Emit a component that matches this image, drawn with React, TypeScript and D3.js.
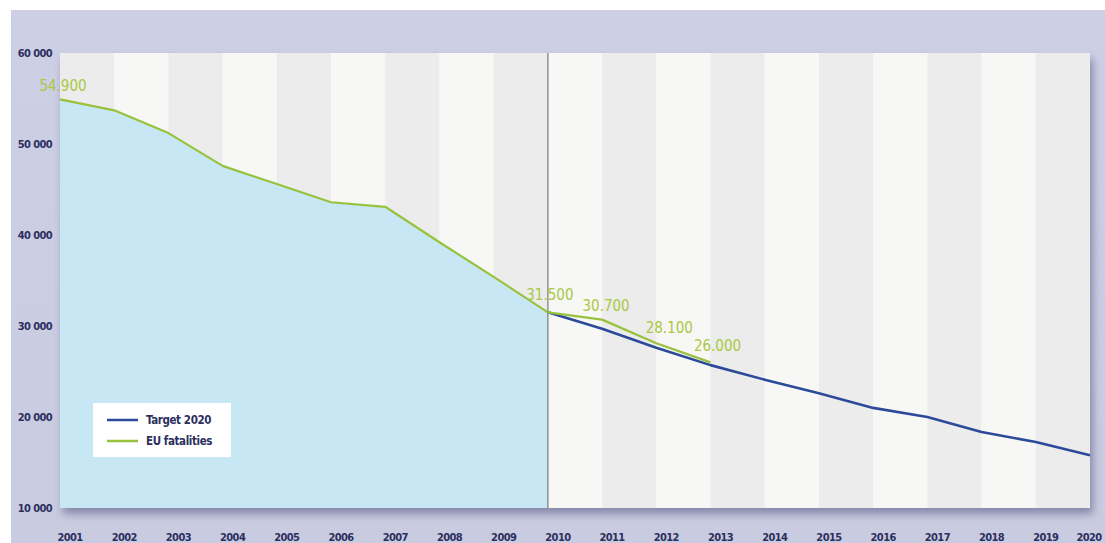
import React from "react";
import * as d3 from "d3";

const years = d3.range(2001, 2021);
const fatalYears = [2001, 2002, 2003, 2004, 2005, 2006, 2007, 2008, 2009, 2010, 2011, 2012, 2013];
const fatalities = [54900, 53700, 51200, 47600, 45600, 43600, 43100, 39200, 35400, 31500, 30700, 28100, 26000];
const targetYears = [2010, 2011, 2012, 2013, 2014, 2015, 2016, 2017, 2018, 2019, 2020];
const target = [31500, 29700, 27600, 25700, 24100, 22600, 21000, 20000, 18350, 17250, 15800];
const labelYears = [2001, 2010, 2011, 2012, 2013];
const labelTexts = ["54.900", "31.500", "30.700", "28.100", "26.000"];
const yTicks = [10000, 20000, 30000, 40000, 50000, 60000];
const legendItems = ["Target 2020", "EU fatalities"];

const W = 1105;
const H = 543;
const plot = { left: 60, right: 1090, top: 53, bottom: 508 };
const FONT = "'Liberation Sans Narrow', 'DejaVu Sans Condensed', 'Open Sans', sans-serif";
const GREEN = "#98c23c";
const LABEL_GREEN = "#aac842";
const BLUE = "#2c4a9a";
const NAVY = "#2c2f5e";

export default function App() {
  const x = d3.scaleLinear().domain([2001, 2020]).range([plot.left, plot.right]);
  const y = d3.scaleLinear().domain([10000, 60000]).range([plot.bottom, plot.top]);

  const fatalData = fatalYears.map((yr, i) => ({ yr, v: fatalities[i] }));
  const targetData = targetYears.map((yr, i) => ({ yr, v: target[i] }));
  const areaData = fatalData.filter((d) => d.yr <= 2010);

  const line = d3.line<{ yr: number; v: number }>().x((d) => x(d.yr)).y((d) => y(d.v));
  const area = d3
    .area<{ yr: number; v: number }>()
    .x((d) => x(d.yr))
    .y0(plot.bottom)
    .y1((d) => y(d.v));

  const fmt = (v: number) => d3.format(",")(v).replace(",", " ");
  const labelOffsets = [
    { dx: 3, dy: -8 },
    { dx: 2, dy: -12 },
    { dx: 4, dy: -9 },
    { dx: 13, dy: -10 },
    { dx: 7, dy: -11 },
  ];

  return (
    <svg width={W} height={H} style={{ position: "absolute", left: 0, top: 0, background: "#fff" }}>
      <defs>
        <linearGradient id="bg" x1="0" y1="0" x2="0" y2="1">
          <stop offset="0" stopColor="#cdcfe5" />
          <stop offset="1" stopColor="#c9cbe0" />
        </linearGradient>
        <filter id="shadow" x="-5%" y="-5%" width="110%" height="115%">
          <feDropShadow dx="3" dy="6" stdDeviation="4" floodColor="#6f7298" floodOpacity="0.75" />
        </filter>
      </defs>
      <rect x={11} y={10} width={W - 11} height={H - 10} fill="url(#bg)" />
      <rect
        x={plot.left}
        y={plot.top}
        width={plot.right - plot.left}
        height={plot.bottom - plot.top}
        fill="#f6f6f5"
        filter="url(#shadow)"
      />
      {years.slice(0, -1).map((yr, i) => (
        <rect
          key={yr}
          x={x(yr)}
          y={plot.top}
          width={x(yr + 1) - x(yr)}
          height={plot.bottom - plot.top}
          fill={i % 2 === 0 ? "#ececec" : "#f7f7f6"}
        />
      ))}
      <path d={area(areaData) || ""} fill="#c8e7f4" />
      <line x1={x(2010)} x2={x(2010)} y1={plot.top} y2={plot.bottom} stroke="#7a7a7a" strokeWidth={1.2} />
      <path d={line(targetData) || ""} fill="none" stroke={BLUE} strokeWidth={2.6} strokeLinejoin="round" />
      <path d={line(fatalData) || ""} fill="none" stroke={GREEN} strokeWidth={2.2} strokeLinejoin="round" />
      {labelYears.map((yr, i) => {
        const v = fatalities[fatalYears.indexOf(yr)];
        return (
          <text
            key={yr}
            x={x(yr) + labelOffsets[i].dx}
            y={y(v) + labelOffsets[i].dy}
            textAnchor="middle"
            fontFamily={FONT}
            fontSize={15}
            fill={LABEL_GREEN}
          >
            {labelTexts[i]}
          </text>
        );
      })}
      {yTicks.map((t) => (
        <text
          key={t}
          x={52}
          y={y(t) + 4}
          textAnchor="end"
          fontFamily={FONT}
          fontSize={11}
          fontWeight="bold"
          fill={NAVY}
          letterSpacing={-0.6}
        >
          {fmt(t)}
        </text>
      ))}
      {years.map((yr) => (
        <text
          key={yr}
          x={Math.min(x(yr) + 10, W - 16)}
          y={541}
          textAnchor="middle"
          fontFamily={FONT}
          fontSize={11}
          fontWeight="bold"
          fill={NAVY}
          letterSpacing={-0.6}
        >
          {yr}
        </text>
      ))}
      <g>
        <rect x={93} y={403} width={138} height={54} fill="#ffffff" />
        {legendItems.map((name, i) => (
          <g key={name}>
            <line x1={107} x2={138} y1={420 + i * 21} y2={420 + i * 21} stroke={i === 0 ? BLUE : GREEN} strokeWidth={2.5} />
            <text x={146} y={424 + i * 21} fontFamily={FONT} fontSize={11.5} fontWeight="bold" fill={NAVY} letterSpacing={-0.4}>
              {name}
            </text>
          </g>
        ))}
      </g>
    </svg>
  );
}
